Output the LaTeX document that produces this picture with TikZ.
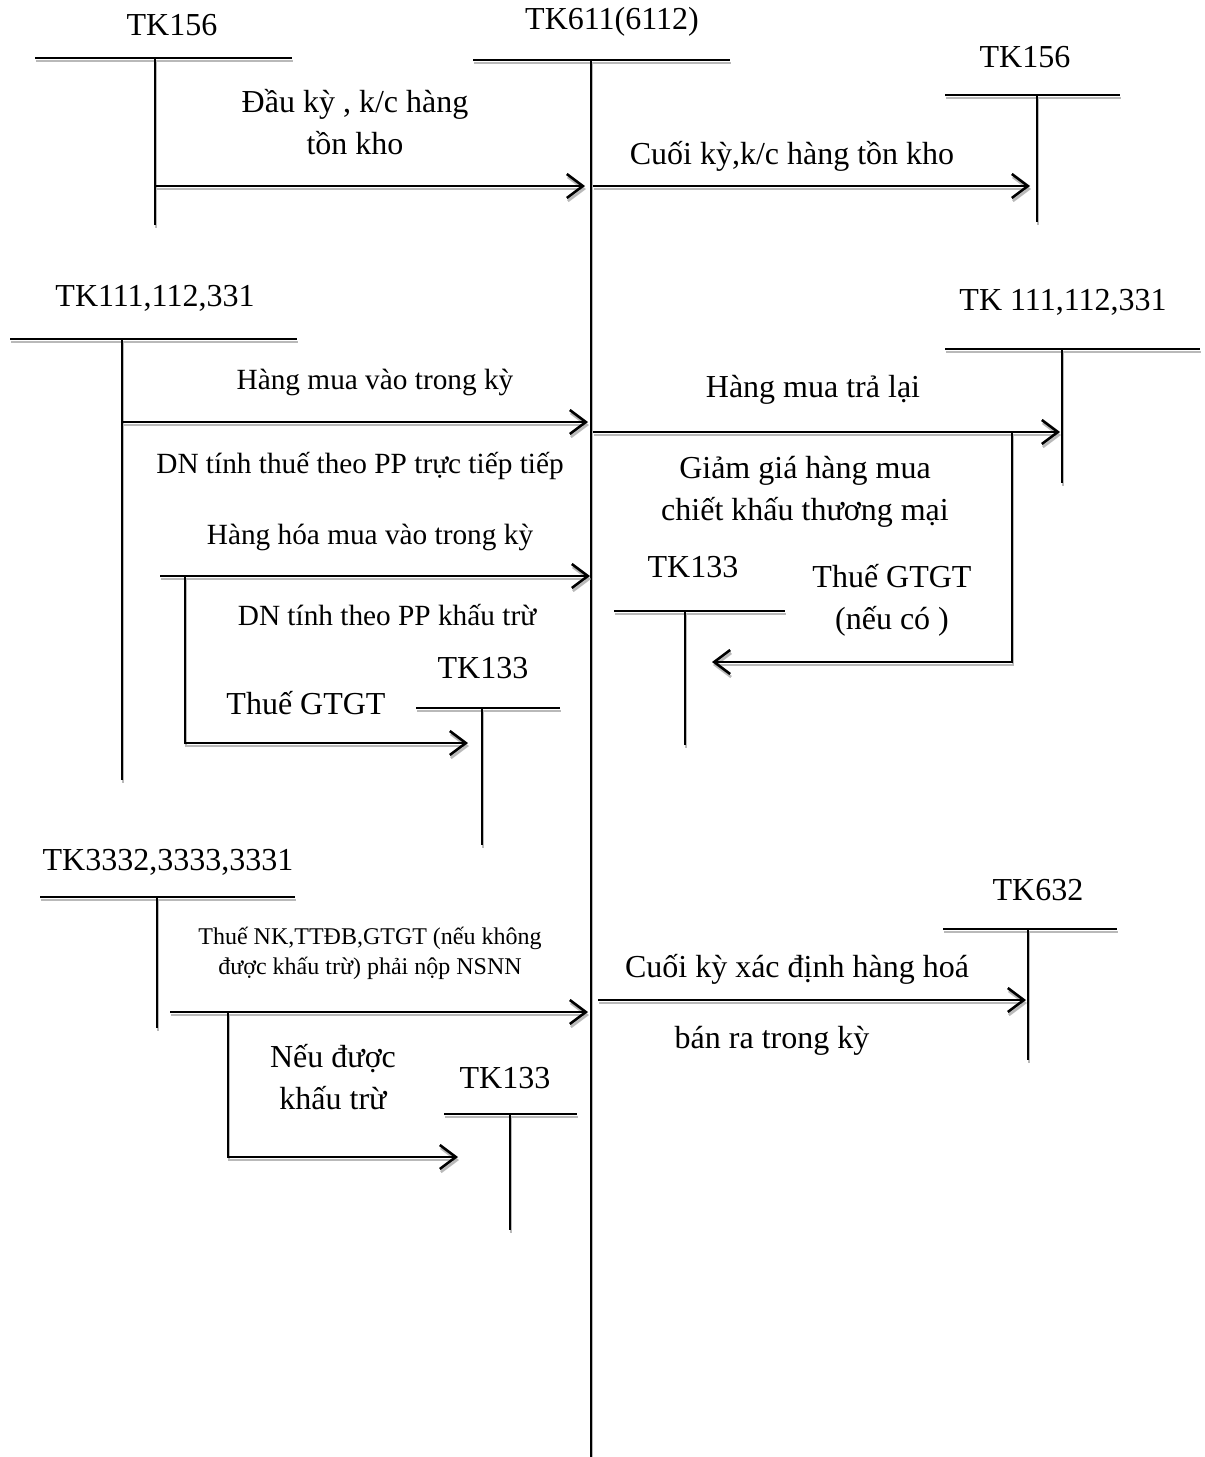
\documentclass[tikz,border=0pt]{standalone}
\usepackage{fontspec}
\setmainfont{Liberation Serif}
\usetikzlibrary{arrows.meta}
\begin{document}
\begin{tikzpicture}[x=1pt,y=-1pt]
        \tikzset{
            lbl/.style={inner sep=0pt, align=center, font=\fontsize{32}{42}\selectfont},
            mid/.style={inner sep=0pt, align=center, font=\fontsize{29.3}{40}\selectfont},
            small/.style={inner sep=0pt, align=center, font=\fontsize{24}{30}\selectfont},
            line/.style={line width=2.6pt, preaction={draw=gray!55, line width=2.6pt, transform canvas={shift={(1pt,-3pt)}}}},
            edge/.style={line, -{Straight Barb[length=16pt,width=24pt,line width=2.6pt]}}
        }
        \useasboundingbox (0,0) rectangle (1205,1457);

        % Accounts
        \node[lbl] (k611) at (612,22) {TK611(6112)};
        \draw[line] (473,60) -- (730,60);
        \draw[line] (591,60) -- (591,1457);

        \node[lbl] (k156a) at (172,25) {TK156};
        \draw[line] (35,58) -- (292,58);
        \draw[line] (155,58) -- (155,225);

        \node[lbl] (k156b) at (1025,57) {TK156};
        \draw[line] (945,95) -- (1120,95);
        \draw[line] (1037,95) -- (1037,222);

        \node[lbl] (k111a) at (155,298) {TK111,112,331};
        \draw[line] (10,339) -- (297,339);
        \draw[line] (122,339) -- (122,780);

        \node[lbl] (k111b) at (1063,302) {TK 111,112,331};
        \draw[line] (945,349) -- (1200,349);
        \draw[line] (1062,349) -- (1062,483);

        \node[lbl] (k133a) at (693,567) {TK133};
        \draw[line] (614,611) -- (785,611);
        \draw[line] (685,611) -- (685,745);

        \node[lbl] (k133b) at (483,668) {TK133};
        \draw[line] (416,708) -- (560,708);
        \draw[line] (482,708) -- (482,845);

        \node[lbl] (k333) at (168,862) {TK3332,3333,3331};
        \draw[line] (40,897) -- (295,897);
        \draw[line] (157,897) -- (157,1028);

        \node[lbl] (k632) at (1038,890) {TK632};
        \draw[line] (943,929) -- (1117,929);
        \draw[line] (1028,929) -- (1028,1060);

        \node[lbl] (k133c) at (505,1078) {TK133};
        \draw[line] (444,1114) -- (577,1114);
        \draw[line] (510,1114) -- (510,1230);

        % Arrow ends
        \coordinate (a1) at (155,186);  \coordinate (b1) at (585,186);
        \coordinate (a2) at (593,186);  \coordinate (b2) at (1030,186);
        \coordinate (a3) at (122,422);  \coordinate (b3) at (588,422);
        \coordinate (a4) at (593,432);  \coordinate (b4) at (1060,432);
        \coordinate (a5) at (1012,432); \coordinate (b5) at (712,662);
        \coordinate (a6) at (160,576);  \coordinate (b6) at (590,576);
        \coordinate (a7) at (185,576);  \coordinate (b7) at (468,743);
        \coordinate (a8) at (170,1012); \coordinate (b8) at (588,1012);
        \coordinate (a9) at (228,1012); \coordinate (b9) at (458,1157);
        \coordinate (a10) at (598,1000); \coordinate (b10) at (1026,1000);

        % Edges
        \draw[edge] (a1) -- (b1);
        \draw[edge] (a2) -- (b2);
        \draw[edge] (a3) -- (b3);
        \draw[edge] (a4) -- (b4);
        \draw[edge] (a5) |- (b5);
        \draw[edge] (a6) -- (b6);
        \draw[edge] (a7) |- (b7);
        \draw[edge] (a8) -- (b8);
        \draw[edge] (a9) |- (b9);
        \draw[edge] (a10) -- (b10);

        % Labels
        \node[lbl] (t1) at (355,122) {Đầu kỳ , k/c hàng\\tồn kho};
        \node[lbl] (t2) at (792,156) {Cuối kỳ,k/c hàng tồn kho};
        \node[mid] (t3) at (375,382) {Hàng mua vào trong kỳ};
        \node[mid] (t4) at (360,466) {DN tính thuế theo PP trực tiếp tiếp};
        \node[lbl] (t5) at (813,390) {Hàng mua trả lại};
        \node[lbl] (t6) at (805,492) {Giảm giá hàng mua\\chiết khấu thương mại};
        \node[lbl] (t7) at (892,600) {Thuế GTGT\\(nếu có )};
        \node[mid] (t8) at (370,537) {Hàng hóa mua vào trong kỳ};
        \node[mid] (t9) at (387,615) {DN tính theo PP khấu trừ};
        \node[lbl] (t10) at (306,703) {Thuế GTGT};
        \node[small] (t11) at (370,953) {Thuế NK,TTĐB,GTGT (nếu không\\được khấu trừ) phải nộp NSNN};
        \node[lbl] (t12) at (333,1077) {Nếu được\\khấu trừ};
        \node[lbl] (t13) at (797,969) {Cuối kỳ xác định hàng hoá};
        \node[lbl] (t14) at (772,1041) {bán ra trong kỳ};
    \end{tikzpicture}
\end{document}
